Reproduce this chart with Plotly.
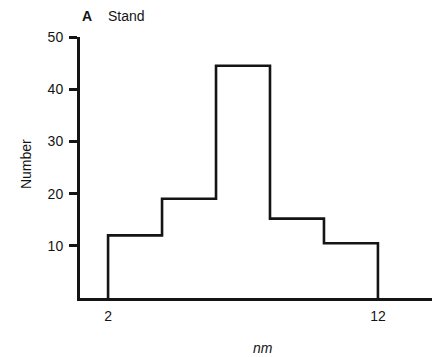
import plotly.graph_objects as go

# Data
bin_edges = [2, 4, 6, 8, 10, 12]
counts = [12, 19, 44.5, 15.2, 10.5]
x_tick_vals = [2, 12]
y_tick_vals = [10, 20, 30, 40, 50]

# Build step outline from the data
xs = [bin_edges[0]]
ys = [0]
for i, c in enumerate(counts):
    xs += [bin_edges[i], bin_edges[i + 1]]
    ys += [c, c]
xs.append(bin_edges[-1])
ys.append(0)

FONT = "Liberation Sans, Arial, sans-serif"
INK = "#141414"

fig = go.Figure()
fig.add_trace(go.Scatter(x=xs, y=ys, mode="lines",
                         line=dict(color=INK, width=2.6),
                         hoverinfo="skip", showlegend=False))

fig.update_layout(
    width=432, height=349,
    margin=dict(l=72, r=7, t=29, b=59),
    paper_bgcolor="white", plot_bgcolor="white",
    font=dict(family=FONT, size=14, color=INK),
    xaxis=dict(range=[0.96, 14.04], showline=True, linecolor=INK, linewidth=3,
               tickvals=x_tick_vals, ticks="", showgrid=False, zeroline=False,
               tickfont=dict(size=14), ticklabelstandoff=3, fixedrange=True),
    yaxis=dict(range=[0, 50], showline=True, linecolor=INK, linewidth=3,
               tickvals=y_tick_vals, ticks="outside", ticklen=8, tickwidth=2.5,
               tickcolor=INK, showgrid=False, zeroline=False,
               tickfont=dict(size=14), ticklabelstandoff=3, fixedrange=True),
    annotations=[
        dict(text="Number", xref="paper", yref="paper", x=-0.153, y=0.513,
             xanchor="center", yanchor="middle",
             textangle=-90, showarrow=False, font=dict(size=14)),
        dict(text="<i>nm</i>", xref="paper", yref="paper", x=0.518, y=-0.192,
             xanchor="center", yanchor="middle",
             showarrow=False, font=dict(size=14)),
        dict(text="<b>A</b>", xref="paper", yref="paper",
             x=0.0, y=1.08, xanchor="left", yanchor="middle", showarrow=False,
             font=dict(size=14)),
        dict(text="Stand", xref="paper", yref="paper",
             x=(98 - 72) / 353, y=1.08, xanchor="left", yanchor="middle", showarrow=False,
             font=dict(size=14)),
    ],
)

fig.write_html("out.html")
